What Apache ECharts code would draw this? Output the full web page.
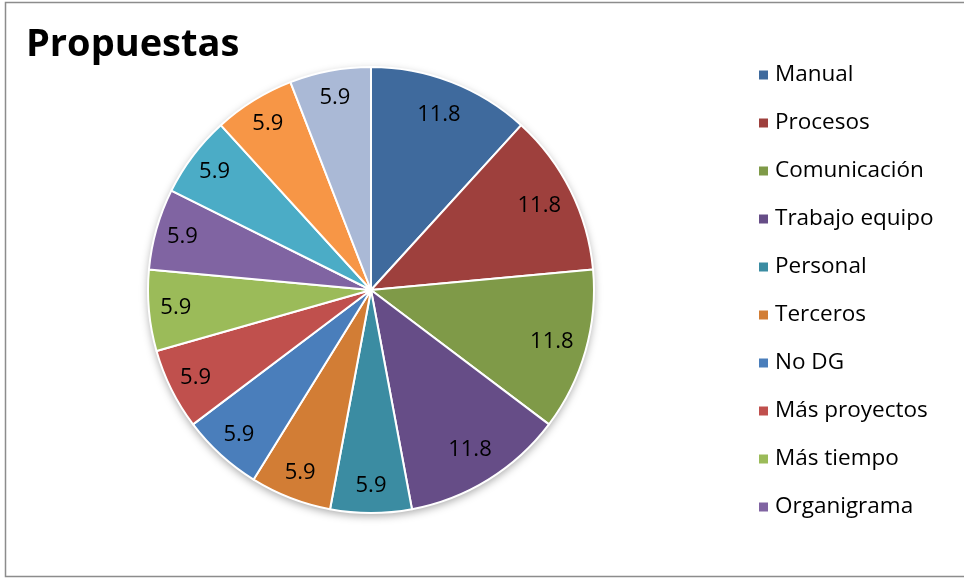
<!DOCTYPE html>
<html>
<head>
<meta charset="utf-8">
<script src="https://cdn.jsdelivr.net/npm/echarts@6/dist/echarts.min.js"></script>
<style>html,body{margin:0;padding:0;background:#fff;}#c{width:964px;height:581px;}</style>
</head>
<body>
<div id="c"></div>
<script>
const categories = ['Manual','Procesos','Comunicación','Trabajo equipo','Personal','Terceros','No DG','Más proyectos','Más tiempo','Organigrama','Serie 11','Serie 12','Serie 13'];
const values = [11.8,11.8,11.8,11.8,5.9,5.9,5.9,5.9,5.9,5.9,5.9,5.9,5.9];
const colors = ['#3F6A9D','#9E403D','#7F9A48','#664D87','#3B8CA2','#D27D35','#4A7EBB','#C0504D','#9BBB59','#8064A2','#4BACC6','#F79646','#AAB9D6'];
const legendNames = categories.slice(0, 10);
const title = 'Propuestas';

const chart = echarts.init(document.getElementById('c'), null, {renderer:'canvas'});
const font = 'Open Sans, Liberation Sans, sans-serif';
const center = [371, 290];
const R = 223;
const pieData = categories.map((n, i) => ({name: n, value: values[i]}));
const labelData = (big) => categories.map((n, i) => ({
  name: n, value: values[i],
  label: {show: big ? values[i] > 10 : values[i] <= 10}
}));
const labelStyle = {position: 'inside', formatter: p => p.value.toFixed(1), fontFamily: font, fontSize: 22, color: '#000'};
chart.setOption({
  animation: false,
  color: colors,
  title: {text: title, left: 21, top: 21, textStyle: {fontFamily: font, fontSize: 38, fontWeight: 'bold', color: '#000'}},
  legend: {
    data: legendNames, orient: 'vertical', left: 752, top: 58, height: 520,
    itemWidth: 11, itemHeight: 11, itemGap: 24, icon: 'rect',
    textStyle: {fontFamily: font, fontSize: 22.5, lineHeight: 24, color: '#000', padding: [0,0,0,1]}
  },
  graphic: [{type: 'rect', shape: {x: 5.5, y: 2.5, width: 970, height: 574}, style: {fill: 'none', stroke: '#8c8c8c', lineWidth: 1.5}, z: -10}],
  series: [
    {
      type: 'pie', center: center, radius: [0, R], startAngle: 90, clockwise: true,
      silent: true,
      data: [{value: 1, name: '_bg'}],
      itemStyle: {color: '#fff', shadowBlur: 8, shadowColor: 'rgba(0,0,0,0.35)', shadowOffsetY: 3},
      label: {show: false}, labelLine: {show: false}, z: 0, legendHoverLink: false
    },
    {
      type: 'pie', center: center, radius: [0, R], startAngle: 90, clockwise: true,
      data: pieData,
      itemStyle: {borderColor: '#fff', borderWidth: 2},
      label: {show: false}, labelLine: {show: false}, z: 2
    },
    {
      type: 'pie', center: center, radius: [147, R], startAngle: 90, clockwise: true,
      silent: true, data: labelData(true),
      itemStyle: {color: 'rgba(0,0,0,0)', borderWidth: 0},
      label: labelStyle, labelLine: {show: false}, z: 3
    },
    {
      type: 'pie', center: center, radius: [163, R], startAngle: 90, clockwise: true,
      silent: true, data: labelData(false),
      itemStyle: {color: 'rgba(0,0,0,0)', borderWidth: 0},
      label: labelStyle, labelLine: {show: false}, z: 3
    }
  ]
});
</script>
</body>
</html>
